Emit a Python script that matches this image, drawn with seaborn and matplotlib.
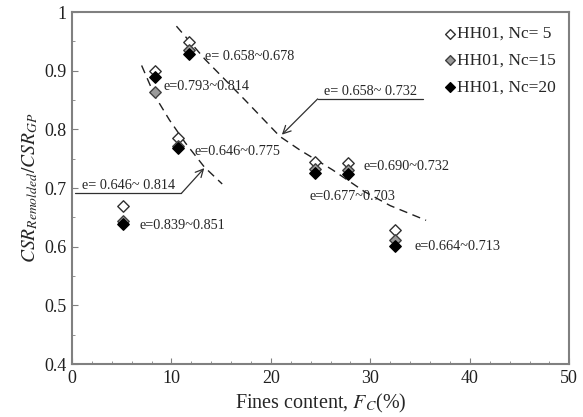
import matplotlib
matplotlib.use("Agg")
import matplotlib.pyplot as plt
import pandas as pd
import seaborn as sns
from matplotlib.ticker import MultipleLocator

# measured points
fines = [5.1, 8.3, 10.7, 11.8, 24.4, 27.8, 32.5]
csr_nc5 = [0.669, 0.899, 0.785, 0.949, 0.745, 0.743, 0.629]
csr_nc15 = [0.644, 0.863, 0.772, 0.935, 0.733, 0.730, 0.612]
csr_nc20 = [0.638, 0.889, 0.768, 0.929, 0.726, 0.724, 0.601]

# dashed trend curves
trend1_x = [7.0, 8.3, 9.8, 11.4, 13.3, 15.1]
trend1_y = [0.909, 0.858, 0.816, 0.777, 0.736, 0.707]
trend2_x = [10.5, 13.4, 17.4, 20.9, 22.9, 26.2, 29.4, 32.0, 35.6]
trend2_y = [0.976, 0.919, 0.850, 0.788, 0.765, 0.731, 0.694, 0.670, 0.645]

series_labels = ["HH01, Nc= 5", "HH01, Nc=15", "HH01, Nc=20"]

# void ratio notes: (text, x, y)
notes = [
    ("e= 0.658~0.678", 13.4, 0.925),
    ("e=0.793~0.814", 9.2, 0.873),
    ("e=0.646~0.775", 12.3, 0.762),
    ("e=0.690~0.732", 29.3, 0.736),
    ("e=0.677~0.703", 23.9, 0.685),
    ("e=0.839~0.851", 6.8, 0.637),
    ("e=0.664~0.713", 34.4, 0.600),
]

sns.set_style("ticks")
plt.rcParams["font.family"] = ["Liberation Serif", "DejaVu Serif"]
plt.rcParams["mathtext.fontset"] = "stix"

fig = plt.figure(figsize=(5.83, 4.17), dpi=100)
ax = fig.add_axes([0.1235, 0.127, 0.853, 0.844])

sns.lineplot(x=trend1_x, y=trend1_y, ax=ax, color="#202020",
             linestyle=(0, (6, 4)), linewidth=1.0, sort=False)
sns.lineplot(x=trend2_x, y=trend2_y, ax=ax, color="#202020",
             linestyle=(0, (6, 4)), linewidth=1.0, sort=False)

styles = [
    ("white", "#303030"),
    ("#9a9a9a", "#404040"),
    ("black", "black"),
]
for values, label, (face, edge) in zip([csr_nc5, csr_nc15, csr_nc20], series_labels, styles):
    df = pd.DataFrame({"Fc": fines, "CSR": values})
    sns.scatterplot(data=df, x="Fc", y="CSR", ax=ax, marker="D", s=34,
                    color=face, edgecolor=edge, linewidth=1.0, label=label,
                    zorder=3)

for text, x, y in notes:
    ax.text(x, y, text, fontsize=10.3, va="center", ha="left")

# underlined labels with arrows
ax.text(1.0, 0.693, "e= 0.646~ 0.814", fontsize=10.3, va="bottom", ha="left")
ax.plot([0.3, 11.0], [0.691, 0.691], color="#303030", linewidth=0.9)
ax.annotate("", xy=(13.3, 0.734), xytext=(11.0, 0.691),
            arrowprops=dict(arrowstyle="->", color="#303030", lw=0.9,
                            mutation_scale=14, shrinkA=0, shrinkB=0))

ax.text(25.3, 0.854, "e= 0.658~ 0.732", fontsize=10.3, va="bottom", ha="left")
ax.plot([24.7, 35.3], [0.852, 0.852], color="#303030", linewidth=0.9)
ax.annotate("", xy=(21.1, 0.791), xytext=(24.7, 0.852),
            arrowprops=dict(arrowstyle="->", color="#303030", lw=0.9,
                            mutation_scale=14, shrinkA=0, shrinkB=0))

ax.set_xlim(0, 50)
ax.set_ylim(0.4, 1.0)
ax.xaxis.set_major_locator(MultipleLocator(10))
ax.xaxis.set_minor_locator(MultipleLocator(2))
ax.yaxis.set_minor_locator(MultipleLocator(0.05))
ax.set_yticks([0.4, 0.5, 0.6, 0.7, 0.8, 0.9, 1.0])
ax.set_yticklabels(["0.4", "0.5", "0.6", "0.7", "0.8", "0.9", "1"])
ax.tick_params(which="both", direction="in", labelsize=13, color="#808080",
               labelcolor="#202020")
ax.tick_params(which="major", length=4, pad=4)
ax.tick_params(which="minor", length=2.5)

for spine in ax.spines.values():
    spine.set_visible(True)
    spine.set_color("#808080")
    spine.set_linewidth(1.5)

ax.set_xlabel("Fines content, $F_C$(%)", fontsize=14.5, labelpad=4)
ax.set_ylabel("$CSR_{Remolded}/CSR_{GP}$", fontsize=14, labelpad=3)

ax.legend(loc="upper right", frameon=False, fontsize=12.5, handletextpad=-0.1,
          handlelength=1.0, labelspacing=0.6, borderaxespad=0.4,
          markerscale=0.85)

plt.savefig("out.png", dpi=100)
